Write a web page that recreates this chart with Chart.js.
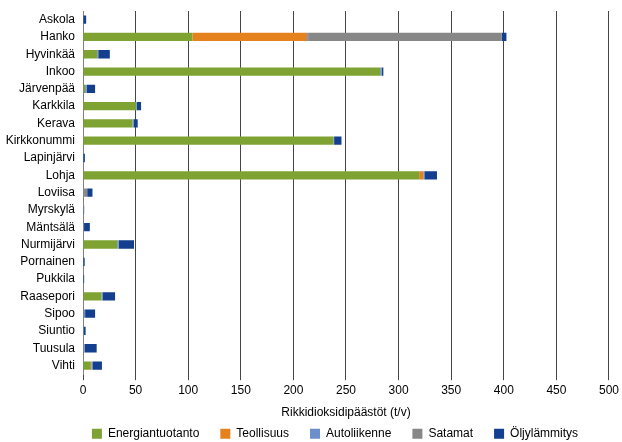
<!DOCTYPE html>
<html>
<head>
<meta charset="utf-8">
<script src="https://cdn.jsdelivr.net/npm/chart.js@4/dist/chart.umd.min.js"></script>
<style>
  html, body { margin: 0; padding: 0; background: #fff; }
  #wrap { width: 622px; height: 442px; position: relative; }
</style>
</head>
<body>
<div id="wrap"><canvas id="c" width="622" height="442"></canvas></div>
<script>
// Municipalities (y axis categories)
const municipalities = ['Askola', 'Hanko', 'Hyvinkää', 'Inkoo', 'Järvenpää', 'Karkkila', 'Kerava',
  'Kirkkonummi', 'Lapinjärvi', 'Lohja', 'Loviisa', 'Myrskylä', 'Mäntsälä', 'Nurmijärvi',
  'Pornainen', 'Pukkila', 'Raasepori', 'Sipoo', 'Siuntio', 'Tuusula', 'Vihti'];

// Sulphur dioxide emissions by source (t/a)
const energiantuotanto = [0, 104, 13.5, 282.5, 2, 50.5, 47, 238, 0, 319.5, 0, 0, 0, 32.5, 0, 0, 17.5, 0.5, 0, 0, 7.5];
const teollisuus       = [0, 109, 0, 0, 0, 0, 0, 0, 0, 4, 0, 0, 0, 0, 0, 0, 0, 0, 0, 0, 0.5];
const autoliikenne     = [0.5, 1, 1, 1.5, 1.5, 0.7, 1, 0.7, 0.3, 1, 1, 0.8, 1, 1.5, 0.4, 0.5, 1, 1.5, 0.8, 1.5, 1.5];
const satamat          = [0, 184, 0, 0, 0, 0, 0, 0, 0, 0, 3, 0, 0, 0, 0, 0, 0, 0, 0, 0, 0];
const oljylammitys     = [2.5, 4.5, 11, 1.5, 8, 4, 4, 7, 1.5, 12, 5, 0.3, 5.5, 14.5, 1.2, 0.6, 12, 9.5, 1.7, 11.5, 8.5];

const xTicks = [0, 50, 100, 150, 200, 250, 300, 350, 400, 450, 500];

const FONT = 'Liberation Sans, Arial, sans-serif';

const mk = (label, data, color) => ({
  label, data, backgroundColor: color, borderWidth: 0,
  barPercentage: 0.96, categoryPercentage: 0.5
});

// Keeps the legend compact vertically while its items stay widely spaced:
// the row is centred at y = 435 and shifted a little right of the canvas middle.
const LEGEND_Y = 435, LEGEND_DX = 24;
const legendPlacement = {
  id: 'legendPlacement',
  beforeLayout(chart) {
    const lg = chart.legend;
    if (lg && !lg._compactFit) {
      const fit = lg.fit.bind(lg);
      lg.fit = function () { fit(); this.height = 22; };
      lg._compactFit = true;
    }
  },
  afterLayout(chart) {
    const lg = chart.legend;
    if (!lg) return;
    const pad = lg.options.labels.padding;
    const itemH = lg._itemHeight || 14.4;
    lg.top = LEGEND_Y - pad - itemH / 2;
    lg.bottom = chart.height;
    lg.left = LEGEND_DX;
    lg.right = chart.width + LEGEND_DX;
  }
};

new Chart(document.getElementById('c'), {
  type: 'bar',
  data: {
    labels: municipalities,
    datasets: [
      mk('Energiantuotanto', energiantuotanto, '#7fa332'),
      mk('Teollisuus', teollisuus, '#e6821e'),
      mk('Autoliikenne', autoliikenne, '#6c8fcb'),
      mk('Satamat', satamat, '#878787'),
      mk('Öljylämmitys', oljylammitys, '#143f8e')
    ]
  },
  plugins: [legendPlacement],
  options: {
    indexAxis: 'y',
    responsive: false,
    animation: false,
    layout: { padding: { left: 5, right: 3, top: 11, bottom: 0 } },
    plugins: {
      tooltip: { enabled: false },
      legend: {
        position: 'bottom',
        labels: {
          font: { family: FONT, size: 12 },
          color: '#000',
          boxWidth: 10,
          boxHeight: 10,
          padding: 21
        }
      }
    },
    scales: {
      x: {
        stacked: true,
        min: 0, max: 500,
        afterBuildTicks: (s) => { s.ticks = xTicks.map(v => ({ value: v })); },
        grid: { color: '#454545', lineWidth: 1, tickLength: 6, drawOnChartArea: true },
        border: { display: false },
        ticks: { font: { family: FONT, size: 12 }, color: '#000', padding: 3, maxRotation: 0 },
        title: {
          display: true, text: 'Rikkidioksidipäästöt (t/v)',
          font: { family: FONT, size: 12 }, color: '#000', padding: { top: 5, bottom: 0 }
        }
      },
      y: {
        stacked: true,
        grid: { display: false, drawTicks: false },
        border: { display: true, color: '#808080', width: 1 },
        ticks: { font: { family: FONT, size: 12 }, color: '#000', padding: 8, autoSkip: false },
        afterFit: (s) => { s.width = 78; s.paddingTop = 0; s.paddingBottom = 0; }
      }
    }
  }
});
</script>
</body>
</html>
